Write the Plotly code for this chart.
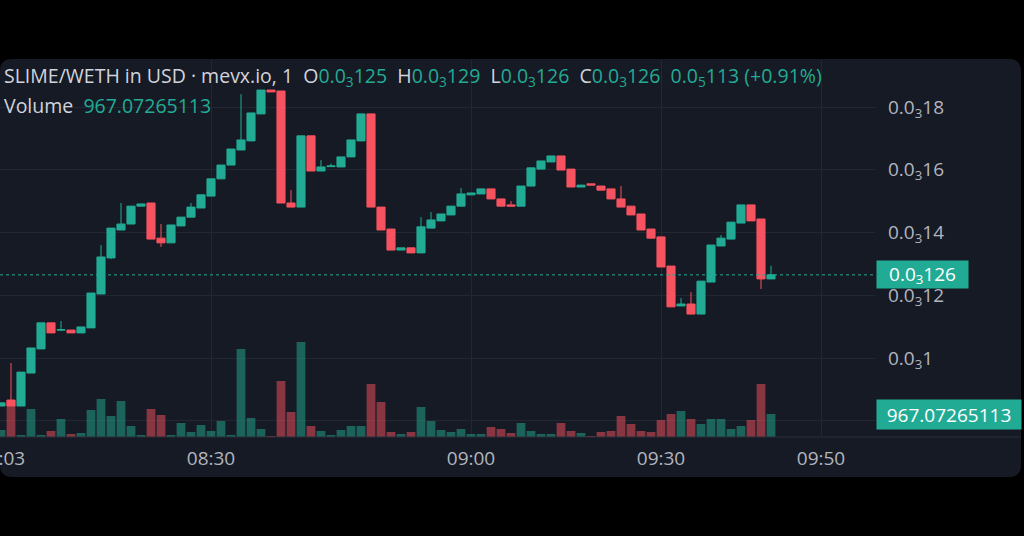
import plotly.graph_objects as go

# ---- data (prices in millionths of USD, i.e. 0.0₃126 -> 126) ----
bar_index = list(range(78))
open_e6 = [84.7, 86.6, 84.7, 95.2, 102.9, 111.2, 108.9, 108.9, 108.0, 109.6,
           120.4, 131.9, 140.8, 142.7, 148.4, 149.4, 138.2, 136.7, 142.1, 144.9,
           147.8, 151.6, 157.1, 161.5, 166.3, 169.2, 177.8, 185.4, 185.1, 149.4,
           148.1, 170.8, 159.6, 161.0, 160.9, 164.1, 169.2, 177.8, 148.1, 141.1,
           134.4, 135.1, 133.5, 141.4, 143.7, 145.6, 148.4, 152.0, 152.3, 153.9,
           150.7, 148.8, 148.4, 154.8, 160.2, 162.5, 164.4, 160.2, 154.5, 155.5,
           154.8, 153.9, 150.7, 148.4, 145.9, 141.1, 138.6, 129.3, 116.6, 117.2,
           114.0, 124.2, 135.7, 137.9, 143.0, 148.8, 144.3, 125.2]
high_e6 = [85.7, 98.4, 95.5, 103.2, 111.2, 111.2, 111.8, 108.9, 109.9, 120.7,
           136.0, 141.4, 149.4, 148.4, 149.1, 149.4, 142.7, 142.4, 144.9, 149.4,
           152.0, 157.1, 161.5, 166.6, 184.1, 178.1, 185.4, 185.4, 185.1, 153.5,
           170.8, 170.8, 163.1, 162.0, 164.1, 169.5, 177.8, 177.8, 148.1, 141.1,
           135.1, 135.1, 144.9, 146.5, 145.9, 148.4, 154.2, 152.6, 153.9, 153.9,
           150.7, 150.0, 154.8, 160.6, 162.8, 164.4, 164.4, 160.2, 155.1, 155.5,
           154.8, 153.9, 154.8, 148.4, 145.9, 141.1, 138.6, 129.3, 119.1, 121.0,
           124.5, 136.0, 139.2, 143.3, 148.8, 148.8, 144.3, 129.4]
low_e6 = [84.7, 84.7, 84.7, 95.2, 102.9, 108.0, 108.6, 108.0, 108.0, 109.6,
          120.4, 131.5, 140.8, 142.7, 148.4, 137.9, 135.4, 136.7, 142.1, 144.9,
          147.8, 151.6, 157.1, 161.5, 166.3, 169.2, 177.8, 184.8, 149.4, 148.1,
          148.1, 159.6, 159.6, 161.0, 160.9, 164.1, 169.2, 148.1, 140.8, 134.4,
          134.4, 133.5, 133.5, 141.4, 143.7, 145.6, 148.4, 152.0, 152.3, 150.7,
          148.4, 148.4, 148.4, 154.8, 160.2, 162.5, 159.9, 154.5, 154.5, 155.1,
          153.5, 150.7, 148.1, 145.6, 140.8, 138.2, 129.0, 116.3, 116.6, 114.0,
          114.0, 124.2, 135.7, 137.9, 143.0, 143.7, 122.0, 125.2]
close_e6 = [85.7, 84.7, 95.5, 103.2, 111.2, 108.0, 109.0, 108.0, 109.9, 120.7,
            132.2, 141.4, 142.7, 148.4, 149.1, 137.9, 136.7, 142.4, 144.9, 148.1,
            152.0, 157.1, 161.5, 166.6, 169.5, 178.1, 185.4, 184.8, 149.4, 148.1,
            170.8, 159.6, 160.9, 161.2, 164.1, 169.5, 177.8, 148.1, 140.8, 134.4,
            135.1, 133.5, 141.8, 144.0, 145.9, 148.4, 152.3, 152.6, 153.9, 150.7,
            148.4, 148.4, 154.8, 160.6, 162.8, 164.4, 159.9, 154.5, 155.1, 155.1,
            153.5, 150.7, 148.1, 145.6, 140.8, 138.2, 129.0, 116.3, 117.2, 114.0,
            124.5, 136.0, 138.2, 143.3, 148.8, 143.7, 125.2, 126.5]
volume = [294, 1556, 84, 1177, 84, 252, 757, 126, 168, 1135,
          1598, 883, 1513, 462, 84, 1177, 925, 84, 589, 210,
          504, 252, 673, 84, 3700, 799, 336, 42, 2354, 1051,
          3994, 462, 252, 84, 294, 462, 462, 2228, 1471, 210,
          126, 210, 1261, 673, 294, 210, 336, 126, 126, 420,
          336, 168, 589, 252, 126, 126, 589, 252, 168, 42,
          210, 252, 883, 546, 252, 210, 715, 967, 1093, 757,
          546, 757, 757, 336, 462, 715, 2228, 967.07265113]

time_tick_index = [0, 21, 47, 66, 82]
time_tick_text = ["08:03", "08:30", "09:00", "09:30", "09:50"]
price_tick_e6 = [80, 100, 120, 140, 160, 180]
# the 0.0₄8 label sits under the volume badge in the reference, so it is left blank
price_tick_text = ["", "0.0<sub>3</sub>1", "0.0<sub>3</sub>12",
                   "0.0<sub>3</sub>14", "0.0<sub>3</sub>16", "0.0<sub>3</sub>18"]

symbol_text = "SLIME/WETH in USD · mevx.io, 1"
ohlc_text = [("O", "0.0<sub>3</sub>125"), ("H", "0.0<sub>3</sub>129"),
             ("L", "0.0<sub>3</sub>126"), ("C", "0.0<sub>3</sub>126")]
change_text = "0.0<sub>5</sub>113 (+0.91%)"
last_price_text = "0.0<sub>3</sub>126"
volume_text = "967.07265113"

# ---- style ----
UP = "#22ab94"
DOWN = "#f7525f"
UP_VOL = "rgba(34,171,148,0.5)"
DOWN_VOL = "rgba(247,82,95,0.5)"
PANEL = "#161a25"
GRID = "#232733"
TXT = "#d1d4dc"
AX = "#b2b5be"
FONT = "Open Sans"
FS = 19.5

S = 1e-6
o = [v * S for v in open_e6]
h = [v * S for v in high_e6]
l = [v * S for v in low_e6]
c = [v * S for v in close_e6]
vol_colors = [UP_VOL if cc >= oo else DOWN_VOL for oo, cc in zip(open_e6, close_e6)]

W, H = 1024, 536
ML, MR, MT, MB = 0, 149, 60, 99
PW, PH = W - ML - MR, H - MT - MB


def px_x(px):
    return (px - ML) / PW


def px_y(py):
    return (H - MB - py) / PH


fig = go.Figure()
fig.add_trace(go.Bar(x=bar_index, y=volume, marker_color=vol_colors,
                     marker_line_width=0, width=0.88, yaxis="y",
                     showlegend=False, hoverinfo="skip"))
fig.add_trace(go.Candlestick(x=bar_index, open=o, high=h, low=l, close=c,
                             yaxis="y2", whiskerwidth=0,
                             increasing=dict(line=dict(color=UP, width=1), fillcolor=UP),
                             decreasing=dict(line=dict(color=DOWN, width=1), fillcolor=DOWN),
                             showlegend=False))

# panel with rounded corners
x0, x1 = px_x(0), px_x(1021)
yt, yb = px_y(59), px_y(477)
rx, ry = 12 / PW, 12 / PH
path = (f"M {x0+rx},{yt} L {x1-rx},{yt} Q {x1},{yt} {x1},{yt-ry} "
        f"L {x1},{yb+ry} Q {x1},{yb} {x1-rx},{yb} L {x0+rx},{yb} "
        f"Q {x0},{yb} {x0},{yb+ry} L {x0},{yt-ry} Q {x0},{yt} {x0+rx},{yt} Z")
shapes = [
    dict(type="path", xref="paper", yref="paper", path=path,
         fillcolor=PANEL, line=dict(width=0), layer="below"),
    dict(type="line", xref="paper", yref="paper", x0=0, x1=px_x(1021), y0=0, y1=0,
         line=dict(color="#2a2e39", width=1), layer="above"),
    dict(type="line", xref="paper", yref="y2", x0=0, x1=1, y0=c[-1], y1=c[-1],
         line=dict(color=UP, width=1, dash="dot"), layer="above"),
]

teal = lambda s: f'<span style="color:{UP}">{s}</span>'
sp = "\u00a0\u00a0"
header = symbol_text + sp + sp.join(k + teal(v) for k, v in ohlc_text) + sp + teal(change_text)

annotations = [
    dict(xref="paper", yref="paper", x=px_x(2), y=px_y(76), xanchor="left", yanchor="middle",
         text=header, showarrow=False, font=dict(family=FONT, size=FS, color=TXT)),
    dict(xref="paper", yref="paper", x=px_x(2), y=px_y(105), xanchor="left", yanchor="middle",
         text="Volume" + sp + teal(volume_text), showarrow=False,
         font=dict(family=FONT, size=FS, color=TXT)),
    dict(xref="paper", yref="y2", x=px_x(876), y=c[-1], xanchor="left", yanchor="middle",
         text=last_price_text, showarrow=False, bgcolor=UP, width=91, height=27,
         borderpad=0, align="center", font=dict(family=FONT, size=19, color="#ffffff")),
    dict(xref="paper", yref="y", x=px_x(876), y=volume[-1], xanchor="left", yanchor="middle",
         text=volume_text, showarrow=False, bgcolor=UP, width=144, height=29,
         borderpad=0, align="center", font=dict(family=FONT, size=19, color="#ffffff")),
]

fig.update_layout(
    width=W, height=H, autosize=False,
    margin=dict(l=ML, r=MR, t=MT, b=MB, pad=0),
    paper_bgcolor="#000000", plot_bgcolor="rgba(0,0,0,0)",
    font=dict(family=FONT, size=19, color=AX),
    boxgap=0.1, boxgroupgap=0.1,
    bargap=0.1,
    shapes=shapes, annotations=annotations,
    xaxis=dict(range=[-0.1, 87.4], tickvals=time_tick_index, ticktext=time_tick_text,
               showgrid=True, gridcolor=GRID, gridwidth=1, zeroline=False, showline=False,
               ticks="", ticklabelstandoff=8, ticklabeloverflow="allow", automargin=False,
               rangeslider=dict(visible=False), tickfont=dict(family=FONT, size=19, color=AX)),
    yaxis=dict(range=[0, 15850], visible=False, fixedrange=True, automargin=False),
    yaxis2=dict(overlaying="y", side="right", range=[74.82 * S, 194.98 * S],
                tickvals=[v * S for v in price_tick_e6], ticktext=price_tick_text,
                showgrid=True, gridcolor=GRID, gridwidth=1, zeroline=False, showline=False,
                ticks="", ticklabelstandoff=12, automargin=False,
                tickfont=dict(family=FONT, size=19, color=AX)),
)

fig.write_html("out.html", config={"displayModeBar": False},
               post_script="document.body.style.margin='0';document.body.style.background='#000';")
